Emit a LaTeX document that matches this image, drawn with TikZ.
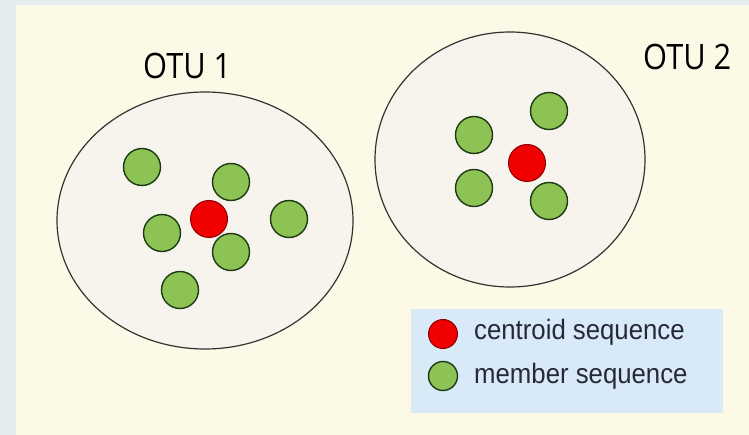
\documentclass[tikz,border=0pt]{standalone}
\usepackage{fontspec}
\usetikzlibrary{shapes.geometric}
\newfontfamily\otufont[FakeStretch=0.88]{Open Sans}
\newfontfamily\legfont[FakeStretch=0.92]{Liberation Sans}
\definecolor{outerbg}{HTML}{E3EDED}
\definecolor{cream}{HTML}{FDF9E7}
\definecolor{otufill}{HTML}{F6F4EC}
\definecolor{legbg}{HTML}{D8E9F8}
\definecolor{memgreen}{HTML}{8DC354}
\definecolor{memedge}{HTML}{1E3A12}
\definecolor{cenred}{HTML}{F00000}
\definecolor{cenedge}{HTML}{8B0000}
\definecolor{legtext}{HTML}{262A38}
\tikzset{
  otu/.style={ellipse, draw=black!80, line width=1.2pt, fill=otufill, inner sep=0pt},
  member/.style={circle, draw=memedge, line width=1.4pt, fill=memgreen, minimum size=37pt, inner sep=0pt},
  centroid/.style={circle, draw=cenedge, line width=1.0pt, fill=cenred, minimum size=37pt, inner sep=0pt},
  legmember/.style={member, minimum size=29pt},
  legcentroid/.style={centroid, minimum size=29pt},
  otulabel/.style={font=\otufont\fontsize{35}{40}\selectfont, text=black, inner sep=0pt, anchor=base west},
  leglabel/.style={font=\legfont\fontsize{28}{32}\selectfont, text=legtext, inner sep=0pt, anchor=base west}
}
\begin{document}
\begin{tikzpicture}[x=1pt,y=-1pt]
\useasboundingbox (0,0) rectangle (749,435);
\fill[outerbg] (0,0) rectangle (749,435);
\fill[cream] (16,5) rectangle (749,435);
% OTU ellipses
\node[otu, minimum width=296pt, minimum height=257pt] (otu1) at (205,220.5) {};
\node[otu, minimum width=270pt, minimum height=255pt] (otu2) at (510,159.5) {};
% OTU 1 sequences
\node[member] (a1) at (142,167) {};
\node[member] (a2) at (231,182) {};
\node[member] (a3) at (162,233) {};
\node[member] (a4) at (289,219) {};
\node[centroid] (c1) at (209,219) {};
\node[member] (a5) at (231,252) {};
\node[member] (a6) at (180,290) {};
% OTU 2 sequences
\node[member] (b1) at (549,111) {};
\node[member] (b2) at (474,135) {};
\node[member] (b3) at (474,188) {};
\node[centroid] (c2) at (527,163) {};
\node[member] (b4) at (549,201) {};
% labels
\node[otulabel] (l1) at (143,79) {OTU 1};
\node[otulabel] (l2) at (643,70) {OTU 2};
% legend
\node[fill=legbg, minimum width=312pt, minimum height=104pt, inner sep=0pt, anchor=north west] (leg) at (411,309) {};
\node[legcentroid] (lc) at (443,334) {};
\node[legmember] (lm) at (443,376) {};
\node[leglabel] (tc) at (474,339) {centroid sequence};
\node[leglabel] (tm) at (474,383) {member sequence};
\end{tikzpicture}
\end{document}
